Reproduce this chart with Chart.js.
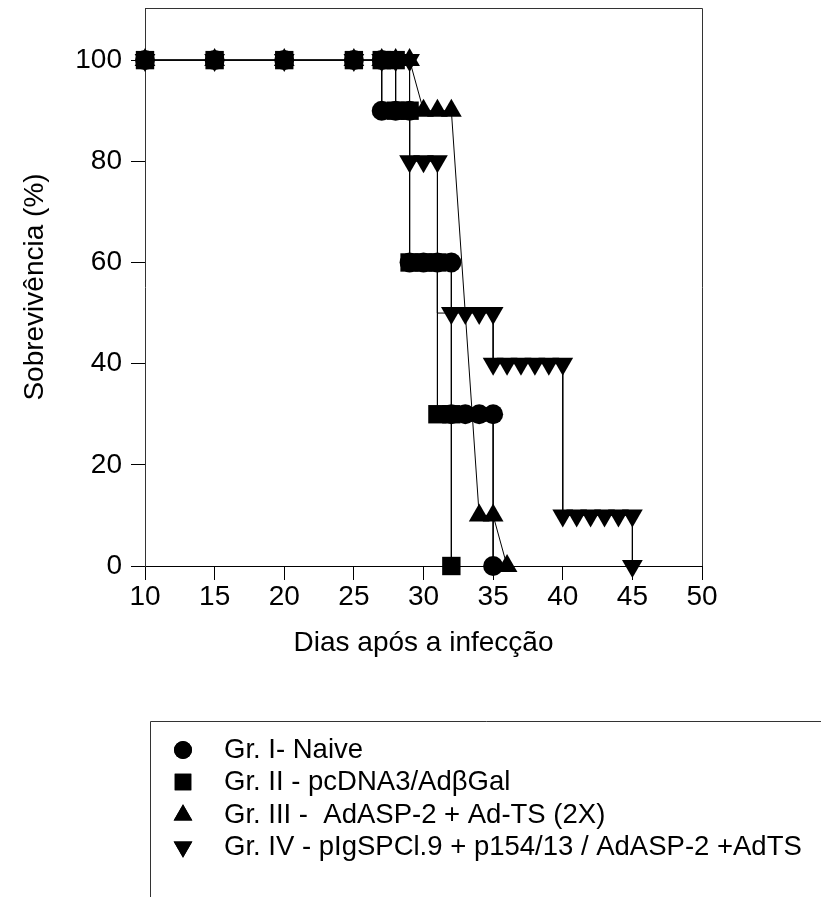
<!DOCTYPE html>
<html>
<head>
<meta charset="utf-8">
<script src="https://cdn.jsdelivr.net/npm/chart.js@4.4.1/dist/chart.umd.min.js"></script>
<style>
  html, body { margin: 0; padding: 0; background: #fff; }
  #wrap { width: 821px; height: 897px; position: relative; }
</style>
</head>
<body>
<div id="wrap"><canvas id="survival" width="821" height="897"></canvas></div>
<script>
// survival (%) per group
const groupNames = [
    'Gr. I- Naive',
    'Gr. II - pcDNA3/Ad\u03B2Gal',
    'Gr. III -  AdASP-2 + Ad-TS (2X)',
    'Gr. IV - pIgSPCl.9 + p154/13 / AdASP-2 +AdTS'
];
const daysI   = [10, 15, 20, 25, 27, 27, 28, 29, 29, 30, 31, 32, 32, 33, 34, 35, 35];
const survI   = [100, 100, 100, 100, 100, 90, 90, 90, 60, 60, 60, 60, 30, 30, 30, 30, 0];
const daysII  = [10, 15, 20, 25, 27, 28, 28, 29, 29, 30, 31, 31, 32, 32];
const survII  = [100, 100, 100, 100, 100, 100, 90, 90, 60, 60, 60, 30, 30, 0];
const daysIII = [10, 15, 20, 25, 27, 28, 29, 30, 31, 32, 34, 35, 36];
const survIII = [100, 100, 100, 100, 100, 100, 100, 90, 90, 90, 10, 10, 0];
const daysIV  = [10, 15, 20, 25, 27, 28, 29, 29, 30, 31, 31, 32, 33, 34, 35, 35, 36, 37, 38, 39, 40, 40, 41, 42, 43, 44, 45, 45];
const survIV  = [100, 100, 100, 100, 100, 100, 100, 80, 80, 80, 50, 50, 50, 50, 50, 40, 40, 40, 40, 40, 40, 10, 10, 10, 10, 10, 10, 0];
// the drop of Gr. IV at day 31 has no symbol at its lower end
const noSymbolIV = [[31, 50]];

const xTicks = [10, 15, 20, 25, 30, 35, 40, 45, 50];
const yTicks = [0, 20, 40, 60, 80, 100];

const FONT = 'Liberation Sans, Arial, sans-serif';

function toPoints(xs, ys) {
    return xs.map((x, i) => ({ x: x, y: ys[i] }));
}

const markers = [
    { pointStyle: 'circle', radius: 10, rotation: 0 },
    { pointStyle: 'rect', radius: 13, rotation: 0 },
    { pointStyle: 'triangle', radius: 12, rotation: 0 },
    { pointStyle: 'triangle', radius: 12, rotation: 180 }
];

function makeSet(i, xs, ys, skip) {
    const r = markers[i].radius;
    return {
        label: groupNames[i],
        data: toPoints(xs, ys),
        borderColor: '#000',
        backgroundColor: '#000',
        borderWidth: 1,
        pointStyle: markers[i].pointStyle,
        pointRadius: (c) => {
            const p = c.raw;
            if (skip && p && skip.some(s => s[0] === p.x && s[1] === p.y)) return 0;
            return r;
        },
        pointRotation: markers[i].rotation,
        pointBackgroundColor: '#000',
        pointBorderWidth: 0,
        tension: 0,
        clip: false
    };
}

// box around the plot plus the boxed legend underneath
const framePlugin = {
    id: 'frame',
    afterDraw(chart) {
        const { ctx, chartArea: a } = chart;
        ctx.save();
        ctx.strokeStyle = '#333';
        ctx.lineWidth = 1;
        ctx.beginPath();
        ctx.moveTo(a.left + 0.5, a.top + 0.5);
        ctx.lineTo(a.right + 0.5, a.top + 0.5);
        ctx.lineTo(a.right + 0.5, a.bottom);
        ctx.stroke();

        // legend box
        ctx.beginPath();
        ctx.moveTo(150.5, 930);
        ctx.lineTo(150.5, 721.5);
        ctx.lineTo(830, 721.5);
        ctx.stroke();

        const rowY = [750, 782, 815, 847];
        ctx.fillStyle = '#000';
        ctx.font = '27.5px ' + FONT;
        ctx.textBaseline = 'middle';
        groupNames.forEach((name, i) => {
            Chart.helpers.drawPoint(ctx, {
                pointStyle: markers[i].pointStyle,
                radius: markers[i].radius * 0.9,
                rotation: markers[i].rotation,
                borderWidth: 0
            }, 183, rowY[i]);
            ctx.fill();
            ctx.fillText(name, 224, rowY[i]);
        });
        ctx.restore();
    }
};

new Chart(document.getElementById('survival'), {
    type: 'line',
    data: {
        datasets: [
            makeSet(0, daysI, survI),
            makeSet(1, daysII, survII),
            makeSet(2, daysIII, survIII),
            makeSet(3, daysIV, survIV, noSymbolIV)
        ]
    },
    options: {
        responsive: false,
        animation: false,
        layout: { autoPadding: false, padding: { left: 18, top: 8, right: 119, bottom: 237 } },
        plugins: { legend: { display: false }, tooltip: { enabled: false } },
        scales: {
            x: {
                type: 'linear',
                min: 10,
                max: 50,
                afterBuildTicks: (s) => { s.ticks = xTicks.map(v => ({ value: v })); },
                afterFit: (s) => { s.height = 94; },
                grid: { drawOnChartArea: false, drawTicks: true, tickLength: 14, color: '#000' },
                border: { display: true, color: '#000', width: 1 },
                ticks: { color: '#000', font: { family: FONT, size: 28 }, padding: 0, maxRotation: 0 },
                title: { display: true, text: 'Dias após a infecção', color: '#000', font: { family: FONT, size: 28 }, padding: 0 }
            },
            y: {
                type: 'linear',
                min: 0,
                max: 110.3,
                afterBuildTicks: (s) => { s.ticks = yTicks.map(v => ({ value: v })); },
                afterFit: (s) => { s.width = 127; s.paddingTop = 0; s.paddingBottom = 0; },
                grid: { drawOnChartArea: false, drawTicks: true, tickLength: 14, color: '#000' },
                border: { display: true, color: '#333', width: 1 },
                ticks: { color: '#000', font: { family: FONT, size: 28 }, padding: 9 },
                title: { display: true, text: 'Sobrevivência (%)', color: '#000', font: { family: FONT, size: 28 }, padding: 0 }
            }
        }
    },
    plugins: [framePlugin]
});
</script>
</body>
</html>
